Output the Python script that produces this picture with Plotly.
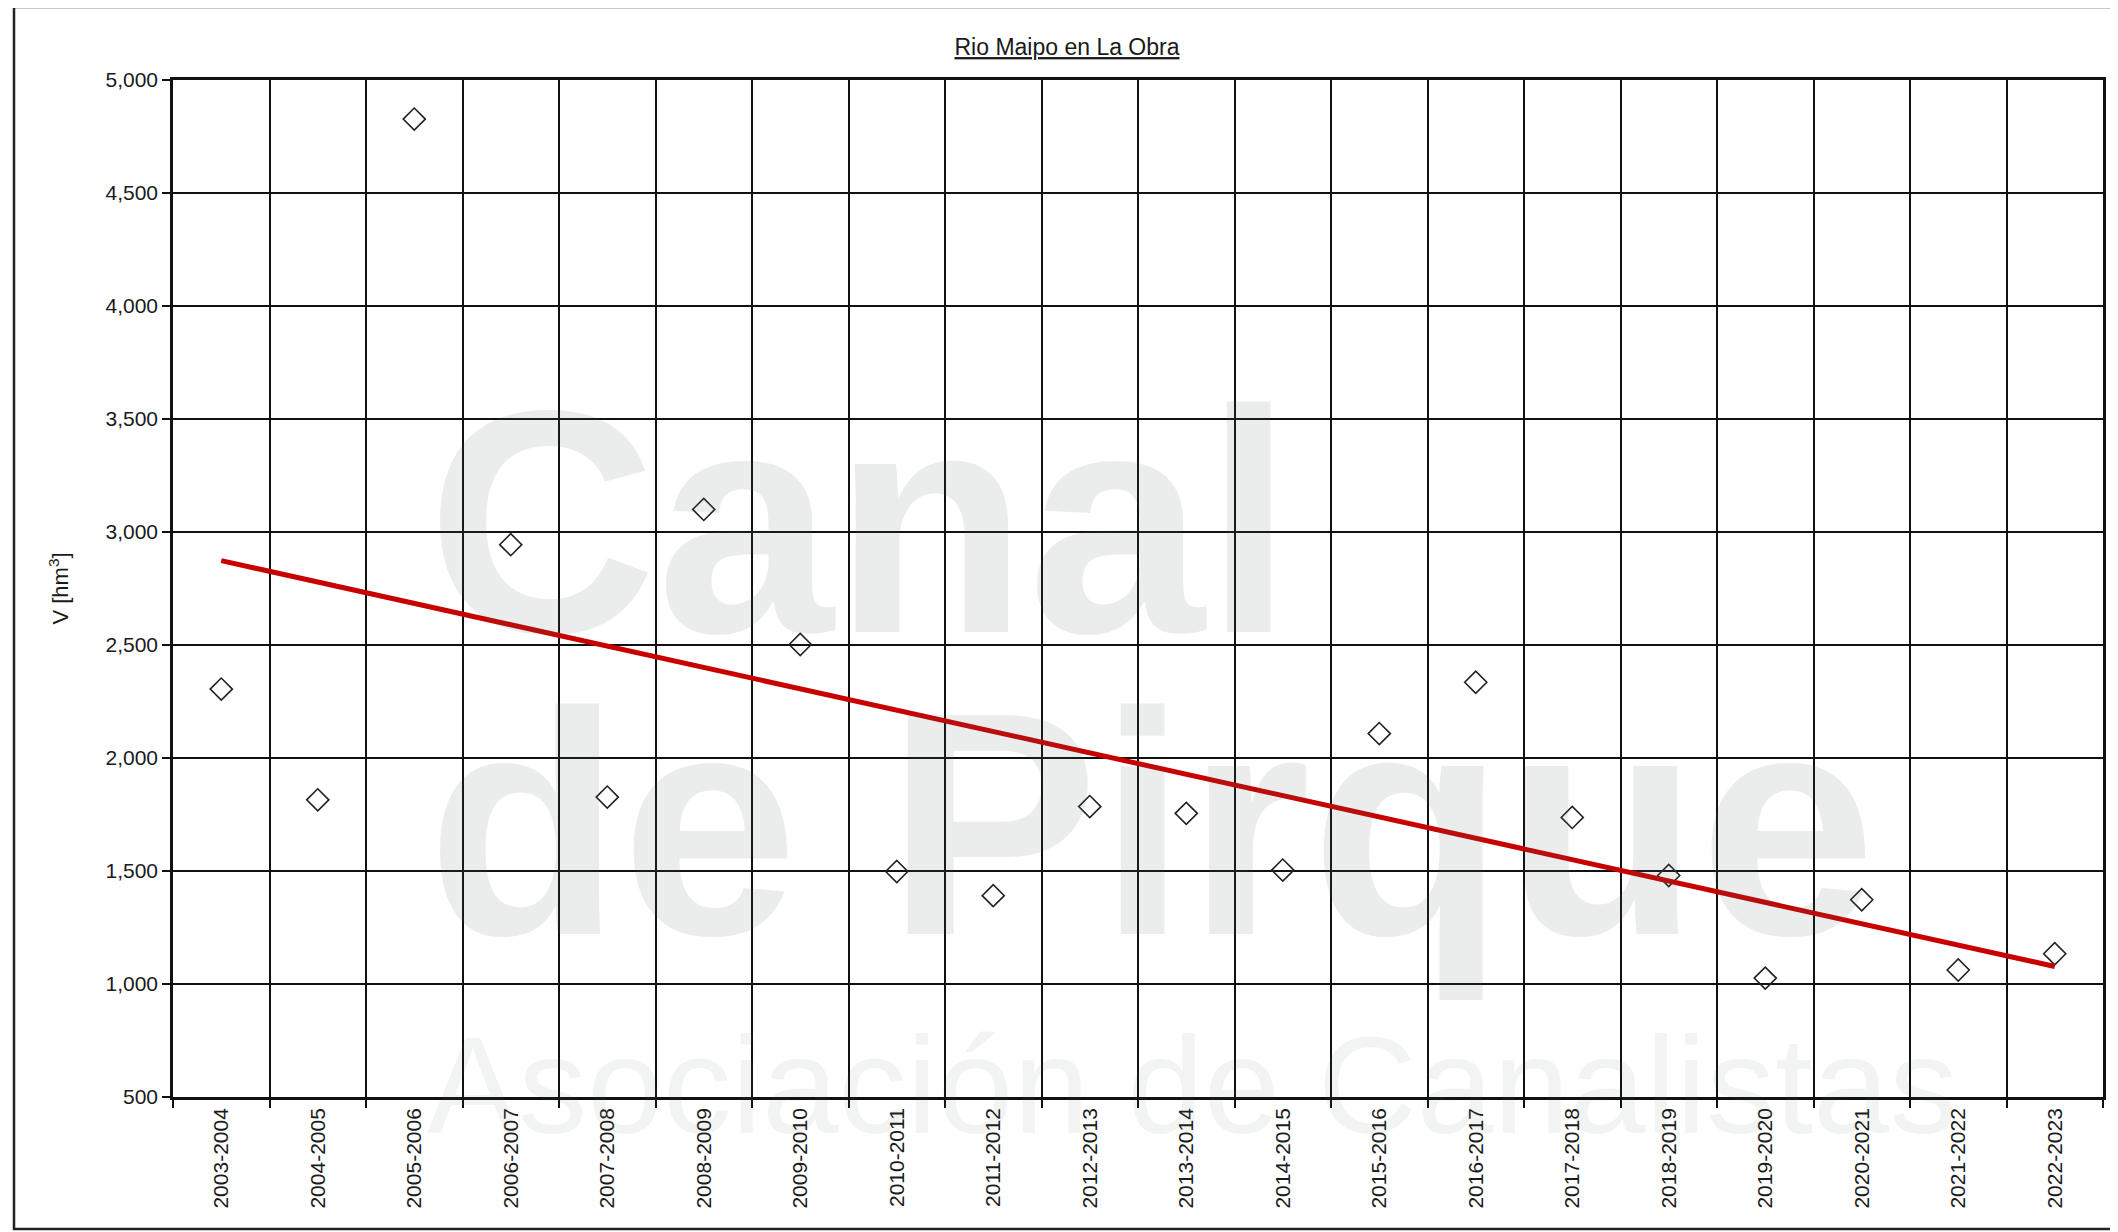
import numpy as np
import plotly.graph_objects as go

# ---- data ----
seasons = ["2003-2004", "2004-2005", "2005-2006", "2006-2007", "2007-2008",
           "2008-2009", "2009-2010", "2010-2011", "2011-2012", "2012-2013",
           "2013-2014", "2014-2015", "2015-2016", "2016-2017", "2017-2018",
           "2018-2019", "2019-2020", "2020-2021", "2021-2022", "2022-2023"]
volume_hm3 = [2305, 1815, 4827, 2944, 1827,
              3100, 2502, 1498, 1391, 1785,
              1755, 1504, 2108, 2335, 1737,
              1480, 1026, 1373, 1062, 1134]

title_text = "Rio Maipo en La Obra"
y_title = "V [hm<sup>3</sup>]"
y_ticks = [500, 1000, 1500, 2000, 2500, 3000, 3500, 4000, 4500, 5000]

# linear trend (least squares, as in the spreadsheet trendline)
idx = np.arange(len(volume_hm3))
slope, intercept = np.polyfit(idx, volume_hm3, 1)
trend = slope * idx + intercept

OFF = 8                      # default page body margin
W, H = 2118 - OFF, 1232 - OFF
L, R, T, B = 173 - OFF, 15, 80 - OFF, 135
pw, ph = W - L - R, H - T - B

def px(x):                    # page pixel -> paper
    return (x - OFF - L) / pw

def py(y):
    return 1 - (y - OFF - T) / ph

FONT = "Liberation Sans, Arial, sans-serif"

fig = go.Figure()
fig.add_trace(go.Scatter(
    x=seasons, y=volume_hm3, mode="markers",
    marker=dict(symbol="diamond-open", size=17, color="#222222",
                line=dict(width=1.6, color="#222222")),
    showlegend=False, cliponaxis=False,
))
fig.add_trace(go.Scatter(
    x=seasons, y=trend, mode="lines",
    line=dict(color="#c80000", width=5),
    showlegend=False,
))

wm_color = "rgba(90,105,105,0.12)"
annotations = [
    dict(text="Canal", xref="paper", yref="paper", x=px(425), y=py(521),
         xanchor="left", yanchor="middle", showarrow=False,
         font=dict(family=FONT, size=318, color=wm_color, weight="bold")),
    dict(text="de Pirque", xref="paper", yref="paper", x=px(425), y=py(825),
         xanchor="left", yanchor="middle", showarrow=False,
         font=dict(family=FONT, size=318, color=wm_color, weight="bold")),
    dict(text="Asociación de Canalistas", xref="paper", yref="paper",
         x=px(425), y=py(1085), xanchor="left", yanchor="middle",
         showarrow=False,
         font=dict(family=FONT, size=137, color="rgba(90,105,105,0.08)")),
]

fig.update_layout(
    width=W, height=H, autosize=False,
    margin=dict(l=L, r=R, t=T, b=B, pad=0),
    paper_bgcolor="white", plot_bgcolor="white",
    font=dict(family=FONT, size=21, color="#1a1a1a"),
    title=dict(text="<u>" + title_text + "</u>", x=px(1067), xref="paper",
               xanchor="center", y=1 - (47 - OFF) / H, yref="container",
               yanchor="middle",
               font=dict(family=FONT, size=23, color="#1a1a1a")),
    annotations=annotations,
    shapes=[dict(type="rect", xref="paper", yref="paper",
                 x0=px(14), x1=px(2115), y0=py(1229), y1=py(7),
                 line=dict(color="#222222", width=2.5), layer="above")],
)

fig.update_xaxes(
    type="category", range=[-0.5, len(seasons) - 0.5],
    tickson="boundaries", ticks="outside", ticklen=8, tickwidth=2,
    tickcolor="#111111", tickangle=-90,
    showgrid=True, gridcolor="#111111", gridwidth=2,
    showline=True, linecolor="#111111", linewidth=2.5, mirror=True,
    tickfont=dict(family=FONT, size=21, color="#1a1a1a"),
    automargin=False,
)
fig.update_yaxes(
    range=[500, 5000], tickvals=y_ticks, tickformat=",d",
    ticks="outside", ticklen=8, tickwidth=2, tickcolor="#111111",
    showgrid=True, gridcolor="#111111", gridwidth=2,
    showline=True, linecolor="#111111", linewidth=2.5, mirror=True,
    zeroline=False,
    tickfont=dict(family=FONT, size=21, color="#1a1a1a"),
    title=dict(text=y_title, standoff=31,
               font=dict(family=FONT, size=22, color="#1a1a1a")),
    automargin=False,
)

fig.write_html("out.html")
